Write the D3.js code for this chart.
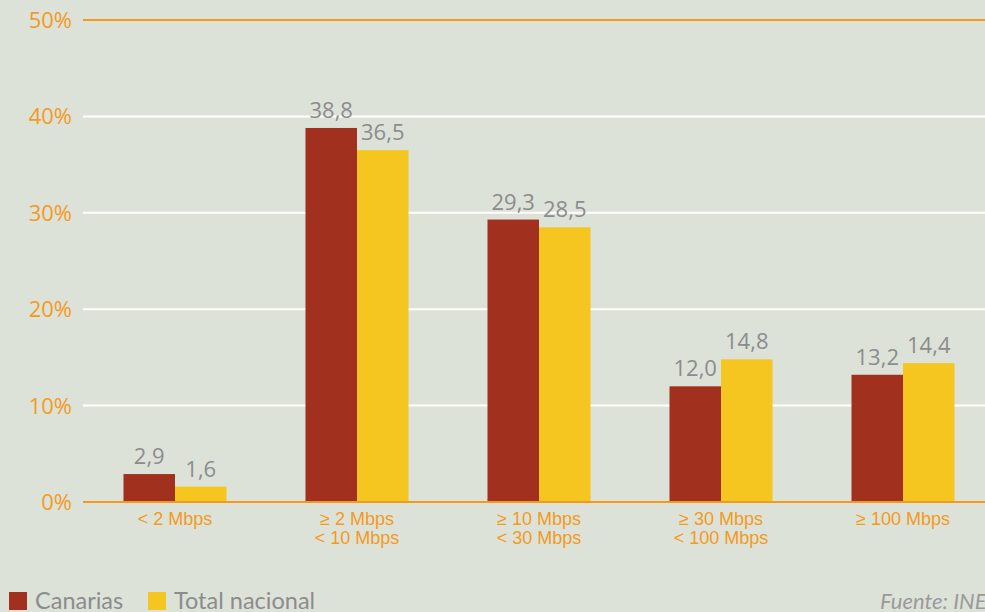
<!DOCTYPE html>
<html><head><meta charset="utf-8">
<script src="https://cdn.jsdelivr.net/npm/d3@7/dist/d3.min.js"></script>
<style>body{margin:0;background:#dde2d9;overflow:hidden}svg{display:block}</style>
</head><body>
<script>
const categories = [["< 2 Mbps"], ["≥ 2 Mbps", "< 10 Mbps"], ["≥ 10 Mbps", "< 30 Mbps"], ["≥ 30 Mbps", "< 100 Mbps"], ["≥ 100 Mbps"]];
const seriesNames = ["Canarias", "Total nacional"];
const canarias = [2.9, 38.8, 29.3, 12.0, 13.2];
const totalNacional = [1.6, 36.5, 28.5, 14.8, 14.4];
const yTicks = [0, 10, 20, 30, 40, 50];
const colors = ["#a2301f", "#f5c520"];
const orange = "#f39a1e";

const W = 985, H = 612;
const humanist = "'Open Sans', Lato, sans-serif";
const svg = d3.select("body").append("svg").attr("width", W).attr("height", H);
svg.append("rect").attr("width", W).attr("height", H).attr("fill", "#dde2d9");

const y = d3.scaleLinear().domain([0, 50]).range([502, 20]);
const x = d3.scaleBand().domain(d3.range(categories.length)).range([44.5, 1033.5]).paddingInner(0.434).paddingOuter(0.434);
const xs = d3.scaleBand().domain(seriesNames).range([0, x.bandwidth()]);

// grid
svg.append("g").selectAll("line").data(yTicks).join("line")
  .attr("x1", 83).attr("x2", W)
  .attr("y1", d => y(d)).attr("y2", d => y(d))
  .attr("stroke", d => (d === 0 || d === 50) ? orange : "#ffffff")
  .attr("stroke-width", 2);

// y labels
svg.append("g").selectAll("text").data(yTicks).join("text")
  .attr("x", 72).attr("y", d => y(d)).attr("dy", "0.36em")
  .attr("text-anchor", "end").attr("fill", orange)
  .attr("font-family", humanist).attr("font-size", 22)
  .text(d => d + "%");

const series = [canarias, totalNacional];
const fmt = v => v.toFixed(1).replace(".", ",");

series.forEach((vals, si) => {
  const g = svg.append("g");
  g.selectAll("rect").data(vals).join("rect")
    .attr("x", (d, i) => x(i) + xs(seriesNames[si]))
    .attr("width", xs.bandwidth())
    .attr("y", d => y(d))
    .attr("height", d => y(0) - y(d) - 1)
    .attr("fill", colors[si]);
  g.selectAll("text").data(vals).join("text")
    .attr("x", (d, i) => x(i) + xs(seriesNames[si]) + xs.bandwidth() / 2)
    .attr("y", d => y(d) - 10)
    .attr("text-anchor", "middle").attr("fill", "#8c8c8c")
    .attr("font-family", humanist).attr("font-size", 22)
    .text(fmt);
});

// category labels
const cg = svg.append("g");
categories.forEach((lines, i) => {
  const cx = x(i) + x.bandwidth() / 2;
  const t = cg.append("text")
    .attr("x", cx).attr("y", 525)
    .attr("text-anchor", "middle").attr("fill", orange)
    .attr("font-family", "'Liberation Sans', Arial, sans-serif").attr("font-size", 18);
  lines.forEach((l, j) => t.append("tspan").attr("x", cx).attr("dy", j === 0 ? 0 : 19).text(l));
});

// legend
const lg = svg.append("g");
const legendX = [9, 148];
seriesNames.forEach((n, i) => {
  lg.append("rect").attr("x", legendX[i]).attr("y", 592).attr("width", 18).attr("height", 18).attr("fill", colors[i]);
  lg.append("text").attr("x", legendX[i] + 26).attr("y", 609)
    .attr("fill", "#8c8c8c").attr("font-family", "Lato, 'Open Sans', sans-serif").attr("font-size", 23.5)
    .text(n);
});
svg.append("text").attr("x", 880).attr("y", 609).attr("fill", "#9a9a9a")
  .attr("font-family", "Lato, 'Open Sans', sans-serif").attr("font-style", "italic").attr("font-size", 22)
  .text("Fuente: INE");
</script>
</body></html>
